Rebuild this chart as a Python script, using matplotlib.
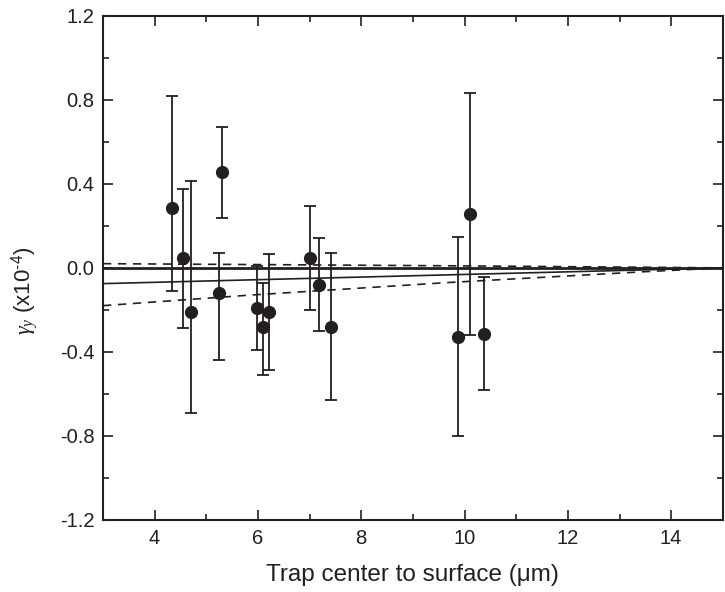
import numpy as np
import matplotlib
matplotlib.use("Agg")
import matplotlib.pyplot as plt
from matplotlib.ticker import MultipleLocator

# measured points: distance (um), gamma_y (x1e-4), error bar ends
dist = [4.33, 4.54, 4.71, 5.25, 5.31, 5.98, 6.10, 6.21, 7.00, 7.19, 7.41, 9.87, 10.10, 10.38]
gamma = [0.286, 0.048, -0.21, -0.12, 0.457, -0.19, -0.28, -0.21, 0.046, -0.08, -0.28, -0.327, 0.256, -0.313]
err_hi = [0.82, 0.376, 0.414, 0.073, 0.67, 0.011, -0.07, 0.068, 0.295, 0.143, 0.073, 0.148, 0.833, -0.043]
err_lo = [-0.11, -0.286, -0.69, -0.44, 0.238, -0.39, -0.51, -0.486, -0.203, -0.303, -0.63, -0.80, -0.32, -0.584]

# model curves
line_x = [3, 15]
zero_y = [0, 0]
fit_y = [-0.075, 0.0]
band_x = [3, 5.83, 9.67, 13.5, 15]
band_hi = [0.02, 0.016, 0.01, 0.003, 0.0]
band_lo = [-0.18, -0.13, -0.07, -0.018, 0.0]

plt.rcParams['font.family'] = ['Liberation Sans', 'DejaVu Sans']
plt.rcParams['mathtext.fontset'] = 'custom'
plt.rcParams['mathtext.rm'] = 'Liberation Sans'
plt.rcParams['mathtext.it'] = 'Liberation Serif:italic'

ink = '#231f20'
fig = plt.figure(figsize=(7.25, 5.92), dpi=100)
ax = fig.add_axes([0.142, 0.122, 0.855, 0.851])

ax.plot(line_x, zero_y, color=ink, lw=2.0)
ax.plot(line_x, fit_y, color=ink, lw=1.2)
ax.plot(band_x, band_hi, color=ink, lw=1.2, ls=(0, (5, 4)))
ax.plot(band_x, band_lo, color=ink, lw=1.2, ls=(0, (5, 4)))

g = np.array(gamma)
yerr = [g - np.array(err_lo), np.array(err_hi) - g]
ax.errorbar(dist, gamma, yerr=yerr, fmt='o', color=ink, ms=8.5,
            elinewidth=1.3, capsize=4, capthick=1.3)

ax.set_xlim(3, 15)
ax.set_ylim(-1.2, 1.2)
ax.xaxis.set_major_locator(MultipleLocator(2))
ax.xaxis.set_minor_locator(MultipleLocator(1))
ax.yaxis.set_major_locator(MultipleLocator(0.4))
ax.yaxis.set_minor_locator(MultipleLocator(0.2))
ax.tick_params(which='both', direction='in', top=True, right=True, width=1.2, colors=ink)
ax.tick_params(which='major', length=7, labelsize=14.5)
ax.tick_params(which='minor', length=4)
ax.tick_params(axis='x', which='major', pad=7)
ax.tick_params(axis='y', which='major', pad=6)
ax.set_yticklabels(['%.1f' % v for v in ax.get_yticks()])
for s in ax.spines.values():
    s.set_linewidth(1.5)
    s.set_color(ink)

ax.set_xlabel('Trap center to surface (\u03bcm)', fontsize=17.5, color=ink, labelpad=11)
ax.set_ylabel('$\\gamma_y$ (x10$^{\\mathrm{\u20104}}$)', fontsize=16, color=ink)
ax.yaxis.set_label_coords(-0.10, 0.454)

fig.savefig('out.png', dpi=100)
